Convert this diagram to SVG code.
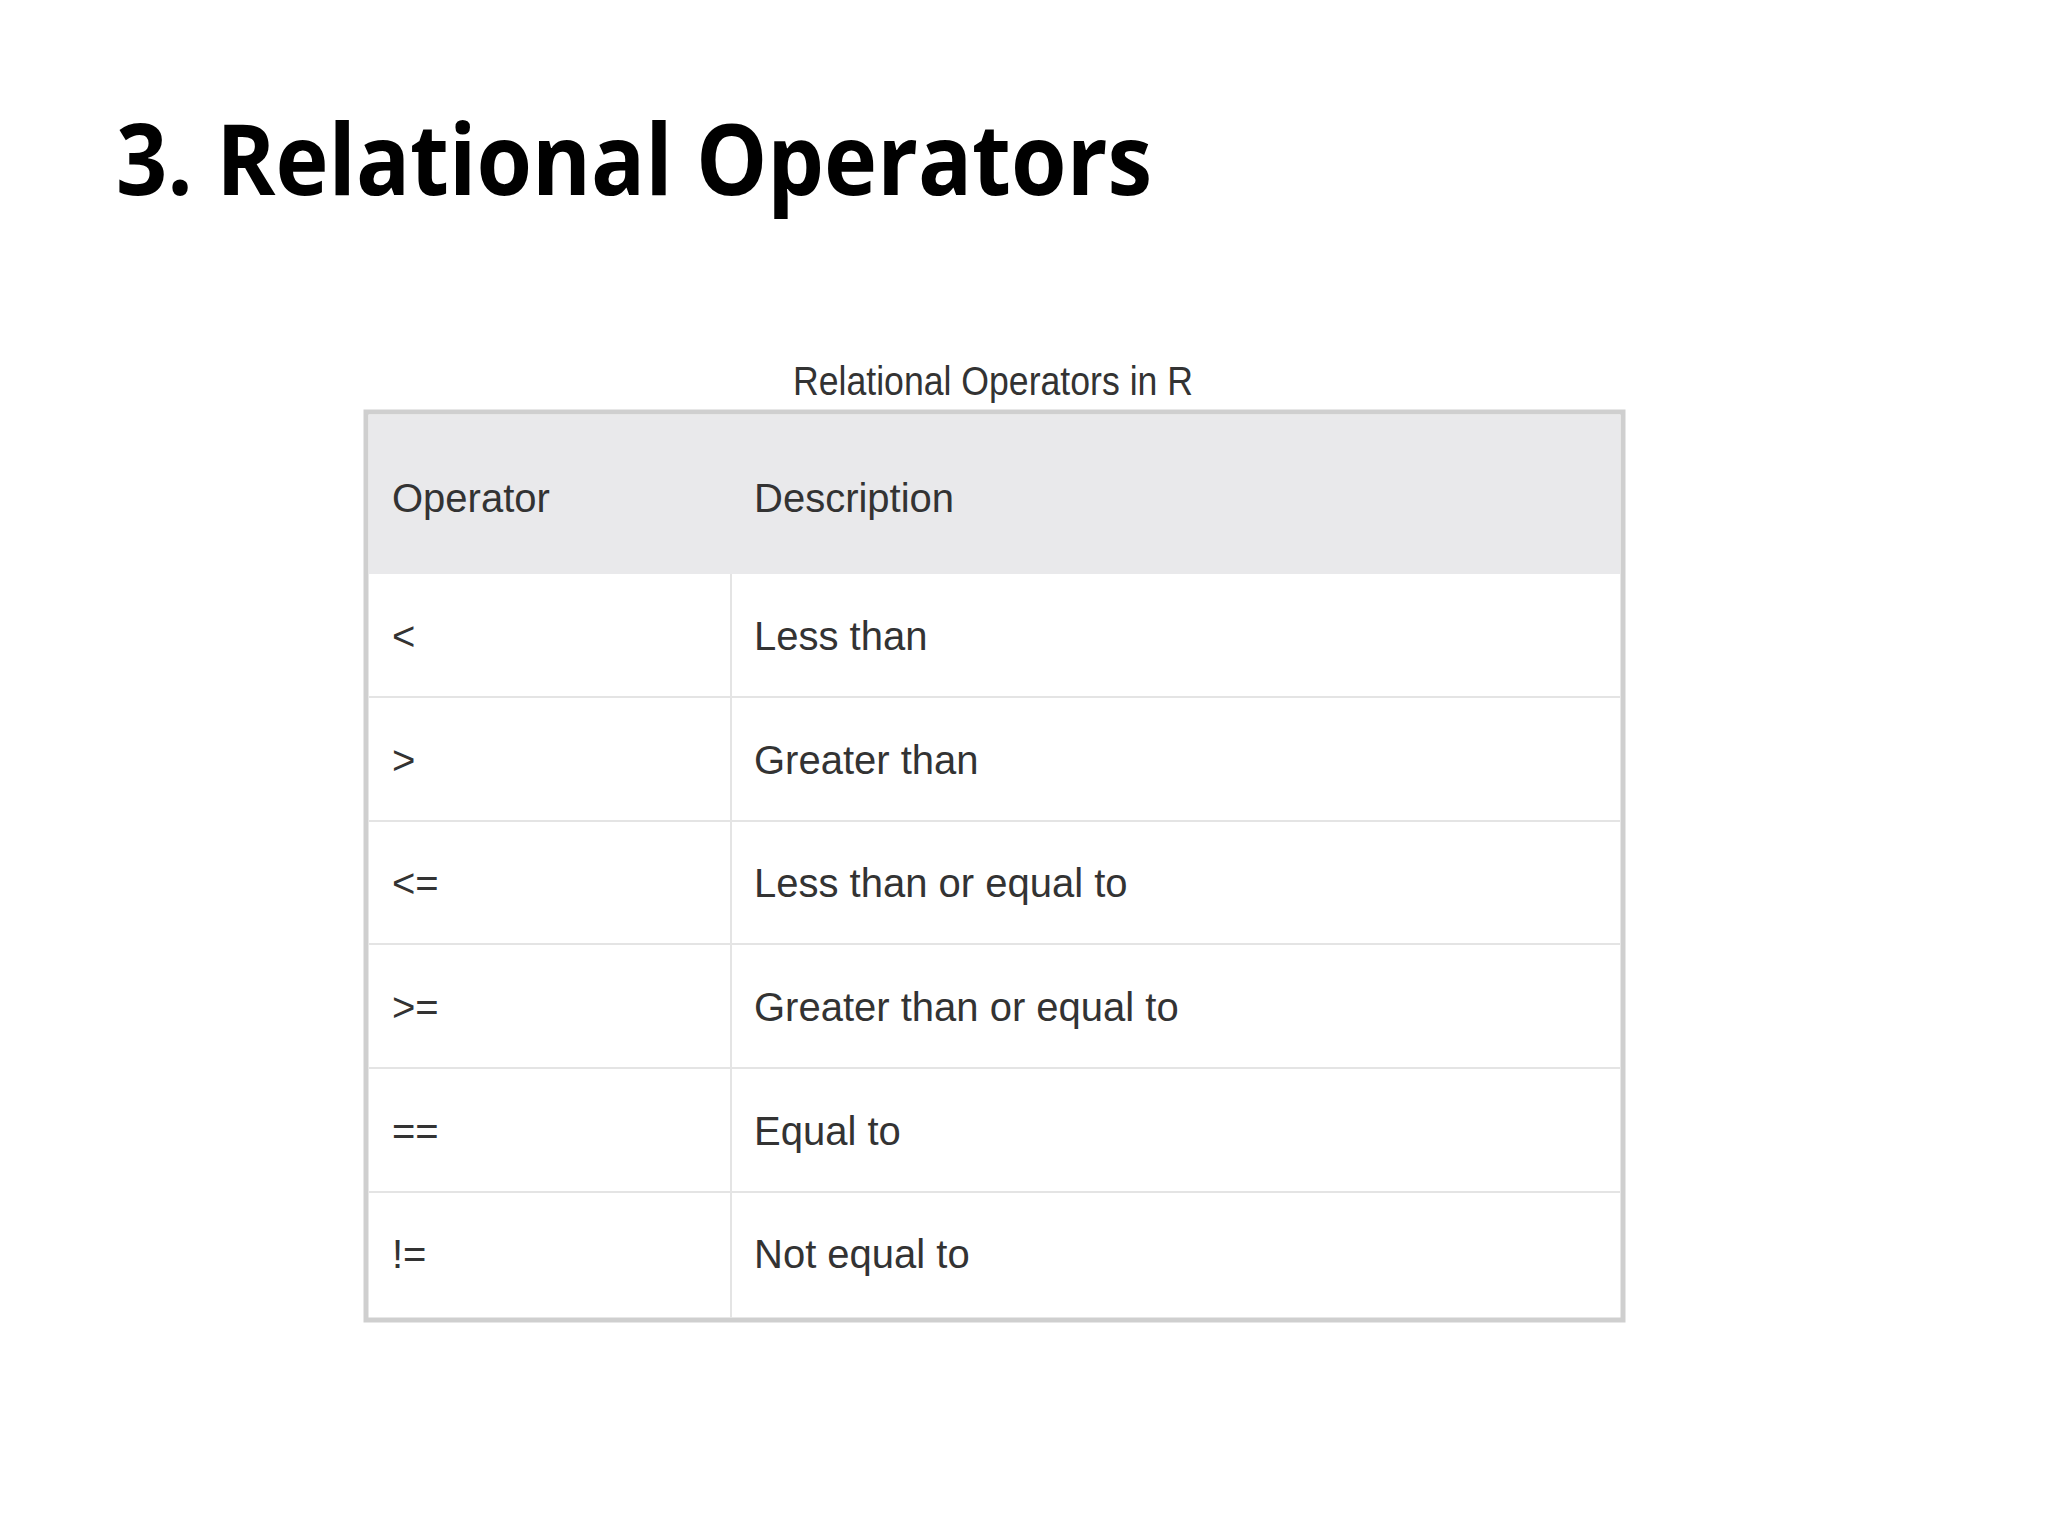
<svg xmlns="http://www.w3.org/2000/svg" width="2048" height="1536" viewBox="0 0 2048 1536">
<style>
.t{font-family:"Liberation Sans",Arial,sans-serif;font-size:40px;fill:#333}
.line{stroke:#e4e4e4;stroke-width:2}
</style>
<rect width="2048" height="1536" fill="#fff"/>
<text x="116" y="195" font-family="Open Sans,Liberation Sans,sans-serif" font-weight="bold" font-size="98" textLength="1036" lengthAdjust="spacingAndGlyphs" fill="#000">3. Relational Operators</text>
<text x="993" y="395" text-anchor="middle" class="t" font-size="38" textLength="400" lengthAdjust="spacingAndGlyphs">Relational Operators in R</text>
<g id="table">
<rect x="366" y="412" width="1257" height="908" fill="#fff" stroke="#cfcfcf" stroke-width="5"/>
<rect x="369" y="415" width="1251" height="159" fill="#e9e9eb"/>
<line class="line" x1="731" y1="574" x2="731" y2="1318"/>
<line class="line" x1="369" y1="697" x2="1620" y2="697"/>
<line class="line" x1="369" y1="821" x2="1620" y2="821"/>
<line class="line" x1="369" y1="944" x2="1620" y2="944"/>
<line class="line" x1="369" y1="1068" x2="1620" y2="1068"/>
<line class="line" x1="369" y1="1192" x2="1620" y2="1192"/>
</g>
<g id="cells">
<text class="t" x="392" y="512" font-size="44">Operator</text>
<text class="t" x="754" y="512" font-size="44">Description</text>
<text class="t" x="392" y="650">&lt;</text><text class="t" x="754" y="650">Less than</text>
<text class="t" x="392" y="774">&gt;</text><text class="t" x="754" y="774">Greater than</text>
<text class="t" x="392" y="897">&lt;=</text><text class="t" x="754" y="897">Less than or equal to</text>
<text class="t" x="392" y="1021">&gt;=</text><text class="t" x="754" y="1021">Greater than or equal to</text>
<text class="t" x="392" y="1145">==</text><text class="t" x="754" y="1145">Equal to</text>
<text class="t" x="392" y="1268">!=</text><text class="t" x="754" y="1268">Not equal to</text>
</g>
</svg>
